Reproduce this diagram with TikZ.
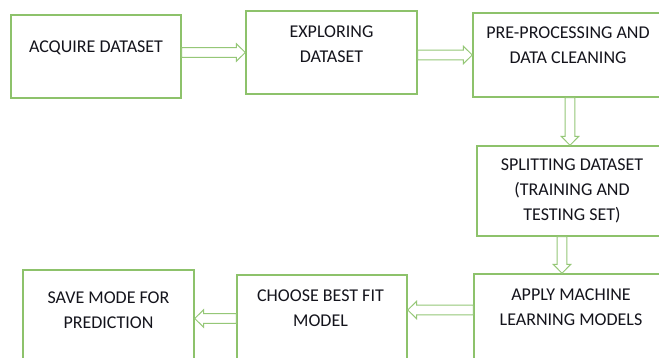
\documentclass[tikz,border=0pt]{standalone}
\usepackage{fontspec}
\setmainfont{Carlito}
\usetikzlibrary{calc}

\definecolor{boxgreen}{HTML}{8DC26B}
\definecolor{arrowgreen}{HTML}{95C777}
\definecolor{inktext}{HTML}{14141C}

% hollow block arrow between two points
\newcommand\hollowarrow[2]{%
  \coordinate (ha-s) at #1;
  \coordinate (ha-e) at #2;
  \coordinate (ha-h) at ($(ha-e)!9pt!(ha-s)$);
  \draw[arrowline]
    ($(ha-s)!4.8pt!90:(ha-e)$) -- ($(ha-h)!4.8pt!90:(ha-e)$) --
    ($(ha-h)!8.8pt!90:(ha-e)$) -- (ha-e) --
    ($(ha-h)!8.8pt!-90:(ha-e)$) -- ($(ha-h)!4.8pt!-90:(ha-e)$) --
    ($(ha-s)!4.8pt!-90:(ha-e)$) -- cycle;
}

\tikzset{
  box/.style={draw=boxgreen, line width=1.4pt, rectangle, inner sep=0pt},
  lbl/.style={text=inktext, align=center, inner sep=0pt,
    font=\fontsize{18}{25}\selectfont},
  arrowline/.style={draw=arrowgreen, line width=1pt, fill=white, line join=miter},
}

\begin{document}
\begin{tikzpicture}[x=1pt, y=-1pt]
  \useasboundingbox (0,0) rectangle (659,358);
  \clip (0,0) rectangle (659,358);
  \fill[white] (0,0) rectangle (659,358);

  % process boxes
  \node[box, minimum width=170pt, minimum height=83pt] (acq)    at (96,56.5)  {};
  \node[box, minimum width=171pt, minimum height=83pt] (expl)   at (331.5,52.5) {};
  \node[box, minimum width=190pt, minimum height=84pt] (pre)    at (568,55)   {};
  \node[box, minimum width=190pt, minimum height=90pt] (split)  at (572,191)  {};
  \node[box, minimum width=194pt, minimum height=88pt] (apply)  at (571,318)  {};
  \node[box, minimum width=170pt, minimum height=87pt] (choose) at (322,318.5) {};
  \node[box, minimum width=171pt, minimum height=92pt] (save)   at (108.5,316) {};

  % box texts
  \node[lbl] (t-acq)    at ($(acq.north)+(0,33.5)$)    {ACQUIRE DATASET};
  \node[lbl] (t-expl)   at ($(expl.north)+(0,33.5)$)   {EXPLORING\\DATASET};
  \node[lbl] (t-pre)    at ($(pre.north)+(0,33)$)      {PRE-PROCESSING AND\\DATA CLEANING};
  \node[lbl] (t-split)  at ($(split.north)+(0,46)$)    {SPLITTING DATASET\\(TRAINING AND\\TESTING SET)};
  \node[lbl] (t-apply)  at ($(apply.north)+(0,33.5)$)  {APPLY MACHINE\\LEARNING MODELS};
  \node[lbl] (t-choose) at ($(choose.north)+(-1.5,33.5)$) {CHOOSE BEST FIT\\MODEL};
  \node[lbl] (t-save)   at ($(save.north)+(0,40.5)$)   {SAVE MODE FOR\\PREDICTION};

  % connectors
  \coordinate (c1) at (acq.east |- expl.west);
  \hollowarrow{(c1)}{(expl.west)}
  \coordinate (c2) at (expl.east |- pre.west);
  \hollowarrow{(c2)}{(pre.west)}
  \coordinate (c3) at ($(pre.south)+(2,0)$);
  \coordinate (c3e) at (c3 |- split.north);
  \hollowarrow{(c3)}{(c3e)}
  \coordinate (c4) at ($(split.south)+(-10,0)$);
  \coordinate (c4e) at (c4 |- apply.north);
  \hollowarrow{(c4)}{(c4e)}
  \coordinate (c5) at ($(apply.west)+(0,-8)$);
  \coordinate (c5e) at (choose.east |- c5);
  \hollowarrow{(c5)}{(c5e)}
  \coordinate (c6) at (choose.west);
  \coordinate (c6e) at (save.east |- c6);
  \hollowarrow{(c6)}{(c6e)}
\end{tikzpicture}
\end{document}
